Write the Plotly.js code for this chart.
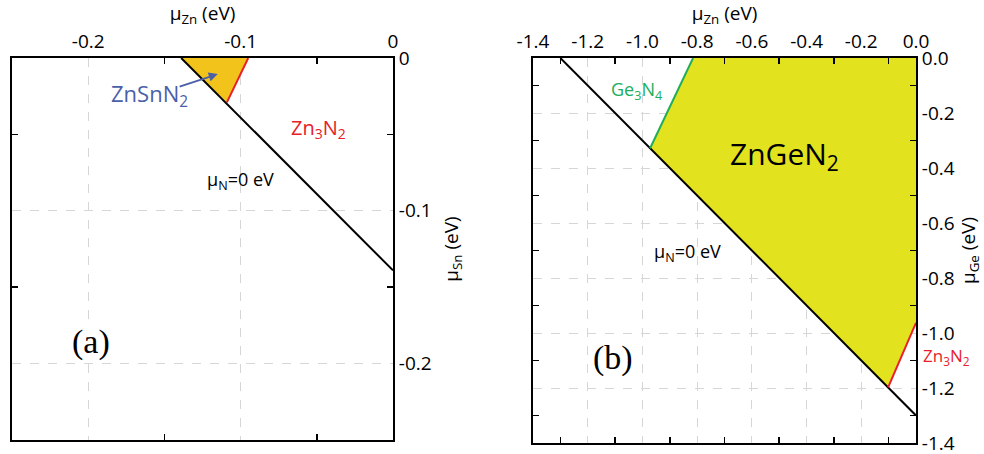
<!DOCTYPE html>
<html>
<head>
<meta charset="utf-8">
<script src="https://cdn.plot.ly/plotly-3.0.1.min.js"></script>
<style>
  html, body { margin: 0; padding: 0; background: #fff; }
  #chart { width: 984px; height: 454px; }
</style>
</head>
<body>
<div id="chart"></div>
<script>
// Panel (a): Zn-Sn-N, chemical potentials in eV
const aNZn = [-0.139, 0];            // mu_N = 0 line
const aNSn = [0, -0.139];
const aFillZn = [-0.139, -0.095, -0.109, -0.139];   // ZnSnN2 stable region
const aFillSn = [0, 0, -0.029, 0];
const aZn3N2Zn = [-0.095, -0.109];   // Zn3N2 boundary
const aZn3N2Sn = [0, -0.029];

// Panel (b): Zn-Ge-N
const bNZn = [-1.30, 0];
const bNGe = [0, -1.30];
const bFillZn = [-0.815, 0, 0, -0.102, -0.972, -0.815];   // ZnGeN2 stable region
const bFillGe = [0, 0, -0.963, -1.198, -0.328, 0];
const bGe3N4Zn = [-0.815, -0.972];
const bGe3N4Ge = [0, -0.328];
const bZn3N2Zn = [0, -0.102];
const bZn3N2Ge = [-0.963, -1.198];

// tick labels
const aMajor = [-0.2, -0.1, 0];
const aMajorText = ['-0.2', '-0.1', '0'];
const aMinor = [-0.15, -0.05];
const bMajor = [-1.4, -1.2, -1.0, -0.8, -0.6, -0.4, -0.2, 0];
const bMajorText = ['-1.4', '-1.2', '-1.0', '-0.8', '-0.6', '-0.4', '-0.2', '0.0'];
const bMinor = [-1.3, -1.1, -0.9, -0.7, -0.5, -0.3, -0.1];

const FONT = 'Open Sans, Noto Sans, sans-serif';
const RED = '#e8202a';
const GREEN = '#20ae5c';
const BLUE = '#4a5fa8';

const traces = [
    { x: aFillZn, y: aFillSn, xaxis: 'x', yaxis: 'y', mode: 'lines', fill: 'toself',
      fillcolor: '#f2c31b', line: { width: 0 }, hoverinfo: 'skip' },
    { x: aNZn, y: aNSn, xaxis: 'x', yaxis: 'y', mode: 'lines', line: { color: '#000', width: 2 } },
    { x: aZn3N2Zn, y: aZn3N2Sn, xaxis: 'x', yaxis: 'y', mode: 'lines', line: { color: RED, width: 2 } },

    { x: bFillZn, y: bFillGe, xaxis: 'x2', yaxis: 'y2', mode: 'lines', fill: 'toself',
      fillcolor: '#e2e21e', line: { width: 0 }, hoverinfo: 'skip' },
    { x: bNZn, y: bNGe, xaxis: 'x2', yaxis: 'y2', mode: 'lines', line: { color: '#000', width: 2 } },
    { x: bGe3N4Zn, y: bGe3N4Ge, xaxis: 'x2', yaxis: 'y2', mode: 'lines', line: { color: GREEN, width: 2 } },
    { x: bZn3N2Zn, y: bZn3N2Ge, xaxis: 'x2', yaxis: 'y2', mode: 'lines', line: { color: RED, width: 2 } }
];

function makeAxis(domain, range, vals, text, minorVals, side, anchor, title, standoff) {
    return {
        domain: domain, range: range, side: side, anchor: anchor,
        tickmode: 'array', tickvals: vals, ticktext: text, ticks: '',
        tickfont: { family: FONT, size: 19, color: '#000' },
        ticklabeloverflow: 'allow',
        showgrid: true, gridcolor: '#d6d6d6', griddash: 'dash', gridwidth: 1,
        zeroline: false, showline: true, linecolor: '#000', linewidth: 2, mirror: 'ticks',
        minor: { tickmode: 'array', tickvals: minorVals, ticks: 'inside', ticklen: 6,
                 tickcolor: '#000', tickwidth: 1.5, showgrid: false },
        title: { text: title, font: { family: FONT, size: 19, color: '#000' }, standoff: standoff },
        automargin: false, fixedrange: true
    };
}

const ann = (xref, yref, x, y, text, size, color, extra) => Object.assign({
    xref: xref, yref: yref, x: x, y: y, text: text, showarrow: false,
    xanchor: 'center', yanchor: 'middle',
    font: { family: FONT, size: size, color: color }
}, extra || {});

const layout = {
    width: 984, height: 454,
    margin: { l: 0, r: 0, t: 0, b: 0 },
    paper_bgcolor: '#fff', plot_bgcolor: '#fff',
    showlegend: false,
    xaxis: makeAxis([0.0122, 0.3994], [-0.25, 0], aMajor, aMajorText, aMinor, 'top', 'y', 'μ<sub>Zn</sub> (eV)', 4),
    yaxis: makeAxis([0.0308, 0.8722], [-0.25, 0], aMajor, aMajorText, aMinor, 'right', 'x', 'μ<sub>Sn</sub> (eV)', 14),
    xaxis2: makeAxis([0.5417, 0.9309], [-1.4, 0], bMajor, bMajorText, bMinor, 'top', 'y2', 'μ<sub>Zn</sub> (eV)', 4),
    yaxis2: makeAxis([0.0242, 0.8722], [-1.4, 0], bMajor, bMajorText, bMinor, 'right', 'x2', 'μ<sub>Ge</sub> (eV)', 4),
    annotations: [
        // panel (a)
        ann('x', 'y', -0.160, -0.024, 'ZnSnN<sub>2</sub>', 22, BLUE),
        { xref: 'x', yref: 'y', axref: 'x', ayref: 'y', x: -0.115, y: -0.0105, ax: -0.141, ay: -0.019,
          text: '', showarrow: true, arrowhead: 2, arrowsize: 1, arrowwidth: 1.8, arrowcolor: BLUE },
        ann('x', 'y', -0.049, -0.046, 'Zn<sub>3</sub>N<sub>2</sub>', 20, RED),
        ann('x', 'y', -0.100, -0.080, 'μ<sub>N</sub>=0 eV', 18, '#000'),
        ann('x', 'y', -0.198, -0.186, '(a)', 32, '#000',
            { font: { family: 'Liberation Serif, serif', size: 34, color: '#000' }, bgcolor: '#fff' }),
        // panel (b)
        ann('x2', 'y2', -1.02, -0.117, 'Ge<sub>3</sub>N<sub>4</sub>', 18, GREEN),
        ann('x2', 'y2', -0.479, -0.354, 'ZnGeN<sub>2</sub>', 30, '#000'),
        ann('x2', 'y2', -0.837, -0.708, 'μ<sub>N</sub>=0 eV', 18, '#000'),
        ann('x2', 'y2', -1.108, -1.091, '(b)', 32, '#000',
            { font: { family: 'Liberation Serif, serif', size: 34, color: '#000' }, bgcolor: '#fff' }),
        ann('paper', 'paper', 0.962, 0.214, 'Zn<sub>3</sub>N<sub>2</sub>', 17, RED)
    ]
};

Plotly.newPlot('chart', traces, layout, { displayModeBar: false, staticPlot: true });
</script>
</body>
</html>
